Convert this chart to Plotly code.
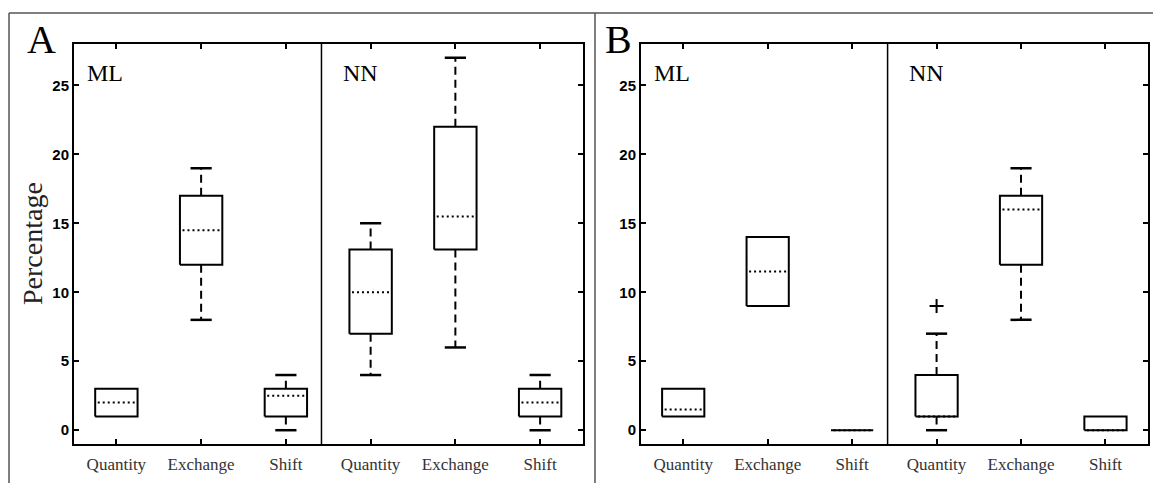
import plotly.graph_objects as go

categories = ["Quantity", "Exchange", "Shift", "Quantity", "Exchange", "Shift"]
positions = [1, 2, 3, 4, 5, 6]
yticks = [0, 5, 10, 15, 20, 25]

# Panel A (ML: first three, NN: last three)
A_min = [1, 8, 0, 4, 6, 0]
A_q1 = [1, 12, 1, 7, 13.1, 1]
A_med = [2, 14.5, 2.5, 10, 15.5, 2]
A_q3 = [3, 17, 3, 13.1, 22, 3]
A_max = [3, 19, 4, 15, 27, 4]
A_out = [[], [], [], [], [], []]

# Panel B
B_min = [1, 9, 0, 0, 8, 0]
B_q1 = [1, 9, 0, 1, 12, 0]
B_med = [1.5, 11.5, 0, 1, 16, 0]
B_q3 = [3, 14, 0, 4, 17, 1]
B_max = [3, 14, 0, 7, 19, 1]
B_out = [[], [], [], [9], [], []]

panel_letters = ["A", "B"]
group_labels = ["ML", "NN"]

fig = go.Figure()

BW = 0.25   # box half width
CW = 0.125  # cap half width
LW = 2


def add_panel(xa, ya, mins, q1s, meds, q3s, maxs, outs):
    for p, mn, a, m, b, mx, o in zip(positions, mins, q1s, meds, q3s, maxs, outs):
        # whiskers
        if mx > b:
            fig.add_trace(go.Scatter(x=[p, p], y=[b, mx], mode="lines", xaxis=xa, yaxis=ya,
                                     line=dict(color="black", width=LW, dash="8px,5px"),
                                     showlegend=False, hoverinfo="skip"))
            fig.add_trace(go.Scatter(x=[p - CW, p + CW], y=[mx, mx], mode="lines", xaxis=xa, yaxis=ya,
                                     line=dict(color="black", width=2.5),
                                     showlegend=False, hoverinfo="skip"))
        if mn < a:
            fig.add_trace(go.Scatter(x=[p, p], y=[a, mn], mode="lines", xaxis=xa, yaxis=ya,
                                     line=dict(color="black", width=LW, dash="8px,5px"),
                                     showlegend=False, hoverinfo="skip"))
            fig.add_trace(go.Scatter(x=[p - CW, p + CW], y=[mn, mn], mode="lines", xaxis=xa, yaxis=ya,
                                     line=dict(color="black", width=2.5),
                                     showlegend=False, hoverinfo="skip"))
        # box
        fig.add_trace(go.Scatter(x=[p - BW, p + BW, p + BW, p - BW, p - BW],
                                 y=[a, a, b, b, a], mode="lines", xaxis=xa, yaxis=ya,
                                 line=dict(color="black", width=LW),
                                 showlegend=False, hoverinfo="skip"))
        # median
        fig.add_trace(go.Scatter(x=[p - BW + 0.03, p + BW - 0.03], y=[m, m], mode="lines", xaxis=xa, yaxis=ya,
                                 line=dict(color="black", width=2, dash="2px,3px"),
                                 showlegend=False, hoverinfo="skip"))
        if o:
            fig.add_trace(go.Scatter(x=[p] * len(o), y=o, mode="markers", xaxis=xa, yaxis=ya,
                                     marker=dict(symbol="cross-thin", size=10,
                                                 line=dict(color="black", width=2)),
                                     showlegend=False, hoverinfo="skip"))


add_panel("x", "y", A_min, A_q1, A_med, A_q3, A_max, A_out)
add_panel("x2", "y2", B_min, B_q1, B_med, B_q3, B_max, B_out)

W, H = 1153, 483
ydom = [1 - 444 / H, 1 - 44 / H]

xcommon = dict(range=[0.5, 6.5], tickmode="array", tickvals=positions, ticktext=categories,
               ticks="inside", ticklen=5, tickwidth=2, tickcolor="black",
               showline=True, linecolor="black", linewidth=2, mirror="ticks",
               showgrid=False, zeroline=False, ticklabelstandoff=4,
               tickfont=dict(family="Liberation Serif", size=17, color="#333"))
ycommon = dict(range=[-1, 28], tickmode="array", tickvals=yticks,
               ticks="inside", ticklen=5, tickwidth=2, tickcolor="black",
               showline=True, linecolor="black", linewidth=2, mirror="ticks",
               showgrid=False, zeroline=False, domain=ydom,
               tickfont=dict(family="Liberation Sans", size=15, color="black", weight="bold"))

fig.update_layout(
    width=W, height=H, margin=dict(l=0, r=0, t=0, b=0),
    paper_bgcolor="white", plot_bgcolor="white",
    xaxis=dict(domain=[74 / W, 582.5 / W], anchor="y", **xcommon),
    yaxis=dict(anchor="x", **ycommon),
    xaxis2=dict(domain=[641 / W, 1147.7 / W], anchor="y2", **xcommon),
    yaxis2=dict(anchor="x2", **ycommon),
)

shapes = []
for xr, yr in [("x", "y"), ("x2", "y2")]:
    shapes.append(dict(type="line", xref=xr, yref=yr + " domain", x0=3.42, x1=3.42, y0=0, y1=1,
                       line=dict(color="black", width=1.5)))
# outer frame lines
shapes.append(dict(type="line", xref="paper", yref="paper", x0=9 / W, x1=1, y0=1 - 13 / H, y1=1 - 13 / H,
                   line=dict(color="#555", width=1.5)))
shapes.append(dict(type="line", xref="paper", yref="paper", x0=9 / W, x1=9 / W, y0=0, y1=1 - 13 / H,
                   line=dict(color="#555", width=1.5)))
shapes.append(dict(type="line", xref="paper", yref="paper", x0=595 / W, x1=595 / W, y0=0, y1=1 - 13 / H,
                   line=dict(color="#555", width=1.5)))
fig.update_layout(shapes=shapes)

annotations = []
for xr, yr in [("x", "y"), ("x2", "y2")]:
    for gx, g in zip([0.63, 3.65], group_labels):
        annotations.append(dict(x=gx, y=25.9, xref=xr, yref=yr, text=g, showarrow=False,
                                xanchor="left", yanchor="middle",
                                font=dict(family="Liberation Serif", size=24, color="black")))
for lx, letter in zip([41, 618], panel_letters):
    annotations.append(dict(x=lx / W, y=1 - 40 / H, xref="paper", yref="paper", text=letter,
                            showarrow=False, xanchor="center", yanchor="middle",
                            font=dict(family="Liberation Serif", size=40, color="black")))
annotations.append(dict(x=32 / W, y=1 - 244 / H, xref="paper", yref="paper", text="Percentage",
                        showarrow=False, textangle=-90, xanchor="center", yanchor="middle",
                        font=dict(family="Liberation Serif", size=28, color="#222")))
fig.update_layout(annotations=annotations)

fig.write_html("out.html", config={"displayModeBar": False},
               post_script="document.body.style.margin='0';document.body.style.overflow='hidden';")
